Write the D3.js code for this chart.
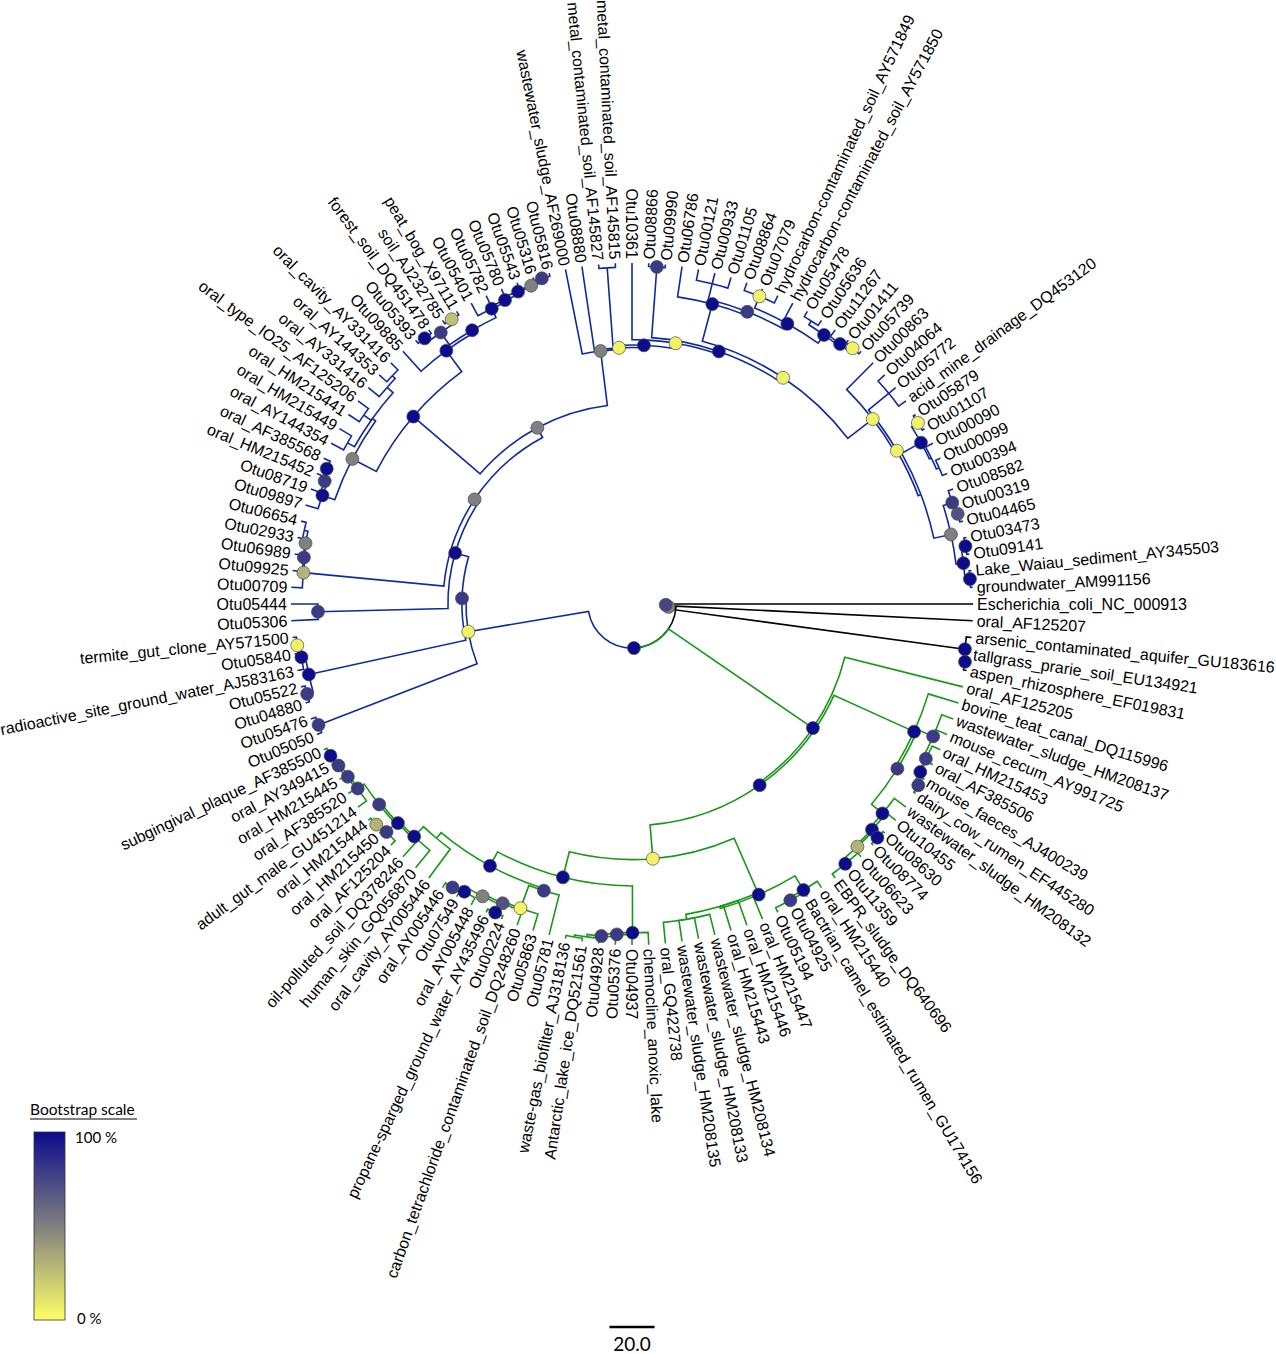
<!DOCTYPE html>
<html lang="en">
<head>
<meta charset="UTF-8">
<title>Bootstrap tree</title>
<script src="https://cdnjs.cloudflare.com/ajax/libs/d3/7.8.2/d3.min.js"></script>
<style>
  body { margin: 0; background: #fff; }
  #chart text { font-family: "Liberation Sans", Arial, sans-serif; }
</style>
</head>
<body>
<div id="chart"></div>
<script>
// internal nodes: [id, parent, depth from centre (tree units), bootstrap %]
const rootNode = ["root", null, 19.6, 100];

const blackNodes = [
  ["kg", "root", 16.3, 50],
  ["kb", "kg", 15.0, 75],
  ["bk1", "kg", 149.3, 100],
  ["bk2", "bk1", 150.2, 100]
];

const greenNodes = [
  ["gt", "root", 97.5, 100],
  ["g2", "gt", 98.5, 100],
  ["s", "g2", 137.6, 100],
  ["pq", "s", 138.8, 80],
  ["u1", "pq", 146.2, 80],
  ["u2", "u1", 147.6, 80],
  ["u3", "u2", 148.3, 100],
  ["u4", "u3", 150.6, 80],
  ["v1", "pq", 145.1, 100],
  ["v2", "v1", 146.4, 100],
  ["v4", "v2", 147.2, 30],
  ["v3", "v4", 150.6, 100],
  ["v5", "v4", 149.4, 100],
  ["yg", "g2", 113.6, 5],
  ["e", "yg", 140.9, 100],
  ["hb", "e", 148.2, 100],
  ["hp", "hb", 149.3, 80],
  ["w", "e", 140.0, null],
  ["w2", "w", 142.2, null],
  ["dg", "yg", 125.3, 100],
  ["oq", "dg", 146.1, 100],
  ["oq2", "oq", 147.0, 80],
  ["oq3", "oq2", 148.2, 80],
  ["oq4", "oq3", 149.3, null],
  ["oq5", "oq4", 150.2, null],
  ["d121", "dg", 132.4, 100],
  ["pk", "d121", 133.3, 80],
  ["yp", "pk", 144.0, 5],
  ["pg", "yp", 144.9, 70],
  ["gc", "pg", 145.9, 50],
  ["dk", "gc", 150.0, 100],
  ["d120", "gc", 148.0, 100],
  ["p123", "d120", 149.1, 80],
  ["or", "d121", 135.6, null],
  ["d133", "or", 141.6, 100],
  ["d136", "d133", 142.5, 100],
  ["p141", "d136", 143.4, 80],
  ["p137", "p141", 148.9, 80],
  ["t139", "p137", 150.1, 30],
  ["p146", "p141", 146.9, 80],
  ["p148", "p146", 147.8, 80],
  ["p151", "p148", 148.9, 80],
  ["d153", "p151", 150.0, 100]
];

const blueNodes = [
  ["y1", "root", 73.8, 5],
  ["nb1", "y1", 149.3, 80],
  ["p1", "y1", 75.6, 80],
  ["nb2", "p1", 147.0, 100],
  ["nb3", "nb2", 149.8, 80],
  ["nb4", "nb2", 148.8, 100],
  ["nb5", "nb4", 149.9, 5],
  ["d1", "p1", 81.8, 100],
  ["nb6", "d1", 139.6, 80],
  ["a1", "d1", 84.0, 50],
  ["nb7", "a1", 146.7, 30],
  ["nb8", "nb7", 147.3, 80],
  ["nb9", "nb8", 147.6, 50],
  ["nb10", "nb9", 149.3, null],
  ["a2", "a1", 88.9, 50],
  ["n", "a2", 128.0, 100],
  ["g", "n", 140.0, 50],
  ["oc", "g", 145.8, 100],
  ["ob", "oc", 147.1, 80],
  ["oa", "ob", 148.4, 100],
  ["og", "g", 141.8, null],
  ["op1", "og", 145.3, null],
  ["op2", "og", 145.8, null],
  ["op3", "og", 145.3, null],
  ["op3b", "op3", 147.1, null],
  ["h", "n", 139.6, 100],
  ["k", "h", 140.9, 100],
  ["kp", "k", 147.6, 80],
  ["kd", "kp", 149.8, 100],
  ["ky", "kp", 149.8, 25],
  ["l1", "k", 145.3, 100],
  ["l2", "l1", 146.4, 100],
  ["l3", "l2", 147.8, 100],
  ["l4", "l3", 148.4, 50],
  ["l5", "l4", 150.2, 80],
  ["t", "a2", 113.3, 50],
  ["t2", "t", 114.0, 5],
  ["t3", "t2", 115.1, 100],
  ["mp", "t3", 149.8, null],
  ["t4", "t3", 117.5, 5],
  ["t5", "t4", 118.7, 100],
  ["q", "t5", 150.2, 80],
  ["t6", "t5", 120.9, 5],
  ["da", "t6", 138.0, 100],
  ["pa", "da", 139.6, 80],
  ["b1", "pa", 146.7, null],
  ["db", "pa", 142.4, 100],
  ["yb", "db", 148.0, 5],
  ["dc", "db", 146.9, 100],
  ["pp", "dc", 148.9, null],
  ["de", "dc", 148.0, 100],
  ["ye", "de", 150.1, 5],
  ["t7", "t6", 134.9, 5],
  ["t8", "t7", 136.0, 5],
  ["m", "t8", 147.6, null],
  ["z", "t8", 137.3, null],
  ["d3", "z", 147.1, 100],
  ["y2", "d3", 150.4, 5],
  ["x118", "d3", 148.0, null],
  ["x119", "x118", 149.3, null],
  ["g4", "z", 145.1, 50],
  ["p4", "g4", 149.3, 80],
  ["pg4", "p4", 150.2, 70],
  ["b", "g4", 148.4, 100],
  ["bp", "b", 150.4, 100],
  ["ba", "b", 150.6, 100]
];

// leaves, in clockwise order starting at 3 o'clock: [name, parent]
const blackLeaves = [
  ["Escherichia_coli_NC_000913", "kb"],
  ["oral_AF125207", "kb"],
  ["arsenic_contaminated_aquifer_GU183616", "bk1"],
  ["tallgrass_prarie_soil_EU134921", "bk2"],
  ["aspen_rhizosphere_EF019831", "bk2"]
];

const greenLeaves = [
  ["oral_AF125205", "gt"],
  ["bovine_teat_canal_DQ115996", "s"],
  ["wastewater_sludge_HM208137", "u1"],
  ["mouse_cecum_AY991725", "u1"],
  ["oral_HM215453", "u2"],
  ["oral_AF385506", "u3"],
  ["mouse_faeces_AJ400239", "u4"],
  ["dairy_cow_rumen_EF445280", "u4"],
  ["wastewater_sludge_HM208132", "v1"],
  ["Otu10455", "v2"],
  ["Otu08630", "v3"],
  ["Otu08774", "v3"],
  ["Otu06623", "v5"],
  ["Otu11359", "v5"],
  ["EBPR_sludge_DQ640696", "v5"],
  ["oral_HM215440", "hb"],
  ["Bactrian_camel_estimated_rumen_GU174156", "hp"],
  ["Otu04925", "hp"],
  ["Otu05194", "hp"],
  ["oral_HM215447", "w"],
  ["oral_HM215446", "w"],
  ["oral_HM215443", "w"],
  ["wastewater_sludge_HM208134", "w2"],
  ["wastewater_sludge_HM208133", "w2"],
  ["wastewater_sludge_HM208135", "w2"],
  ["oral_GQ422738", "w2"],
  ["chemocline_anoxic_lake", "oq"],
  ["Otu04937", "oq2"],
  ["Otu05376", "oq3"],
  ["Otu04928", "oq4"],
  ["Antarctic_lake_ice_DQ521561", "oq5"],
  ["waste-gas_biofilter_AJ318136", "oq5"],
  ["Otu05781", "pk"],
  ["Otu05863", "yp"],
  ["carbon_tetrachloride_contaminated_soil_DQ248260", "pg"],
  ["Otu00224", "dk"],
  ["propane-sparged_ground_water_AY435496", "dk"],
  ["oral_AY005448", "d120"],
  ["Otu07549", "p123"],
  ["oral_AY005446", "p123"],
  ["oral_cavity_AY005446", "or"],
  ["human_skin_GQ056870", "d133"],
  ["oil-polluted_soil_DQ378246", "d136"],
  ["oral_AF125204", "p137"],
  ["oral_HM215450", "t139"],
  ["oral_HM215444", "t139"],
  ["adult_gut_male_GU451214", "p146"],
  ["oral_AF385520", "p148"],
  ["oral_HM215445", "p151"],
  ["oral_AY349415", "d153"],
  ["subgingival_plaque_AF385500", "d153"]
];

const blueLeaves = [
  ["Otu05050", "nb1"],
  ["Otu05476", "nb1"],
  ["Otu04880", "nb3"],
  ["Otu05522", "nb3"],
  ["radioactive_site_ground_water_AJ583163", "nb4"],
  ["Otu05840", "nb5"],
  ["termite_gut_clone_AY571500", "nb5"],
  ["Otu05306", "nb6"],
  ["Otu05444", "nb6"],
  ["Otu00709", "nb7"],
  ["Otu09925", "nb8"],
  ["Otu06989", "nb9"],
  ["Otu02933", "nb10"],
  ["Otu06654", "nb10"],
  ["Otu09897", "oc"],
  ["Otu08719", "ob"],
  ["oral_HM215452", "oa"],
  ["oral_AF385568", "oa"],
  ["oral_AY144354", "op1"],
  ["oral_HM215449", "op1"],
  ["oral_HM215441", "op2"],
  ["oral_type_IO25_AF125206", "op2"],
  ["oral_AY331416", "op3"],
  ["oral_AY144353", "op3b"],
  ["oral_cavity_AY331416", "op3b"],
  ["Otu09885", "h"],
  ["Otu05393", "kd"],
  ["forest_soil_DQ451478", "kd"],
  ["soil_AJ232785", "ky"],
  ["peat_bog_X97111", "ky"],
  ["Otu05401", "l1"],
  ["Otu05782", "l2"],
  ["Otu05780", "l3"],
  ["Otu05543", "l4"],
  ["Otu05316", "l5"],
  ["Otu05816", "l5"],
  ["wastewater_sludge_AF269000", "t"],
  ["Otu08880", "t2"],
  ["metal_contaminated_soil_AF145827", "mp"],
  ["metal_contaminated_soil_AF145815", "mp"],
  ["Otu10361", "t4"],
  ["Otu08866", "q"],
  ["Otu09990", "q"],
  ["Otu06786", "da"],
  ["Otu00121", "b1"],
  ["Otu00933", "b1"],
  ["Otu01105", "b1"],
  ["Otu08864", "yb"],
  ["Otu07079", "yb"],
  ["hydrocarbon-contaminated_soil_AY571849", "yb"],
  ["hydrocarbon-contaminated_soil_AY571850", "db"],
  ["Otu05478", "pp"],
  ["Otu05636", "pp"],
  ["Otu11267", "de"],
  ["Otu01411", "ye"],
  ["Otu05739", "ye"],
  ["Otu00863", "t7"],
  ["Otu04064", "m"],
  ["Otu05772", "m"],
  ["acid_mine_drainage_DQ453120", "m"],
  ["Otu05879", "y2"],
  ["Otu01107", "y2"],
  ["Otu00090", "x118"],
  ["Otu00099", "x119"],
  ["Otu00394", "x119"],
  ["Otu08582", "p4"],
  ["Otu00319", "pg4"],
  ["Otu04465", "pg4"],
  ["Otu03473", "bp"],
  ["Otu09141", "bp"],
  ["Lake_Waiau_sediment_AY345503", "ba"],
  ["groundwater_AM991156", "ba"]
];

const leafDepth = 151.6;
const scaleBarValue = 20;
const legendTicks = ["100 %", "0 %"];

const width = 1276, height = 1354;
const cx = 632, cy = 604;

const clades = [
  { color: "#000000", nodes: blackNodes, leaves: blackLeaves },
  { color: "#1a961a", nodes: greenNodes, leaves: greenLeaves },
  { color: "#102a9c", nodes: blueNodes, leaves: blueLeaves }
];

const rows = [{ id: rootNode[0], parentId: rootNode[1], depth: rootNode[2], boot: rootNode[3], color: "#000000" }];
const leafOrder = [];
clades.forEach(c => {
  c.nodes.forEach(([id, parent, depth, boot]) =>
    rows.push({ id, parentId: parent, depth, boot, color: c.color }));
  c.leaves.forEach(([name, parent]) => {
    rows.push({ id: name, parentId: parent, depth: leafDepth, boot: null, color: c.color, leaf: true });
    leafOrder.push(name);
  });
});

const root = d3.stratify().id(d => d.id).parentId(d => d.parentId)(rows);

const angle = d3.scaleLinear().domain([0, leafOrder.length]).range([0, 2 * Math.PI]);
const rScale = d3.scaleLinear().domain([0, 100]).range([0, 225]);
const bootColor = d3.scaleLinear()
  .domain([0, 50, 100])
  .range(["#ffff66", "#808080", "#0c0c8c"]);

root.eachAfter(n => {
  if (!n.children) n.a = angle(leafOrder.indexOf(n.id));
  else {
    const as = n.children.map(c => c.a);
    n.a = (d3.min(as) + d3.max(as)) / 2;
  }
  n.r = rScale(n.data.depth);
});

const pt = (r, a) => [cx + r * Math.cos(a), cy + r * Math.sin(a)];

const svg = d3.select("#chart").append("svg")
  .attr("width", width)
  .attr("height", height);

// branches: arc at the parent's radius, then a radial segment out to the child
svg.append("g")
  .selectAll("path")
  .data(root.descendants().filter(n => n.parent))
  .join("path")
  .attr("fill", "none")
  .attr("stroke", d => d.data.color)
  .attr("stroke-width", 1.6)
  .attr("d", d => {
    const p = d3.path();
    const [x0, y0] = pt(d.parent.r, d.parent.a);
    p.moveTo(x0, y0);
    p.arc(cx, cy, d.parent.r, d.parent.a, d.a, d.a < d.parent.a);
    const [x1, y1] = pt(d.r, d.a);
    p.lineTo(x1, y1);
    return p.toString();
  });

// bootstrap circles
svg.append("g")
  .selectAll("circle")
  .data(root.descendants().filter(n => n.children && n.data.boot != null))
  .join("circle")
  .attr("cx", d => pt(d.r, d.a)[0])
  .attr("cy", d => pt(d.r, d.a)[1])
  .attr("r", 6.5)
  .attr("fill", d => bootColor(d.data.boot))
  .attr("stroke", "#4a4a4a")
  .attr("stroke-width", 0.7);

// leaf labels
svg.append("g")
  .selectAll("text")
  .data(root.leaves())
  .join("text")
  .attr("font-size", 16)
  .attr("dy", "0.35em")
  .attr("transform", d => {
    const deg = d.a * 180 / Math.PI;
    const right = deg <= 90 || deg > 270;
    return `translate(${cx},${cy}) rotate(${deg}) translate(${d.r + 4},0)` + (right ? "" : " rotate(180)");
  })
  .attr("text-anchor", d => {
    const deg = d.a * 180 / Math.PI;
    return (deg <= 90 || deg > 270) ? "start" : "end";
  })
  .text(d => d.id);

// legend
const defs = svg.append("defs");
const grad = defs.append("linearGradient")
  .attr("id", "boot-grad")
  .attr("x1", "0%").attr("y1", "0%")
  .attr("x2", "0%").attr("y2", "100%");
[100, 75, 50, 25, 0].forEach((v, i) => {
  grad.append("stop")
    .attr("offset", `${i * 25}%`)
    .attr("stop-color", bootColor(v));
});

const legend = svg.append("g").attr("transform", "translate(30,1095)");
legend.append("text")
  .attr("x", 0).attr("y", 20)
  .style("font-family", "Lato, 'Open Sans', sans-serif")
  .attr("font-size", 15.5)
  .text("Bootstrap scale");
legend.append("line")
  .attr("x1", 0).attr("x2", 107)
  .attr("y1", 24).attr("y2", 24)
  .attr("stroke", "#000").attr("stroke-width", 1);
legend.append("rect")
  .attr("x", 4).attr("y", 37)
  .attr("width", 31).attr("height", 188)
  .attr("fill", "url(#boot-grad)")
  .attr("stroke", "#333").attr("stroke-width", 0.8);
legend.append("text")
  .attr("x", 45).attr("y", 48)
  .style("font-family", "Lato, 'Open Sans', sans-serif")
  .attr("font-size", 15)
  .text(legendTicks[0]);
legend.append("text")
  .attr("x", 47).attr("y", 229)
  .style("font-family", "Lato, 'Open Sans', sans-serif")
  .attr("font-size", 15)
  .text(legendTicks[1]);

// scale bar
const barLen = rScale(scaleBarValue) - rScale(0);
svg.append("line")
  .attr("x1", 632 - barLen / 2).attr("x2", 632 + barLen / 2)
  .attr("y1", 1327).attr("y2", 1327)
  .attr("stroke", "#000").attr("stroke-width", 2.5);
svg.append("text")
  .attr("x", 632).attr("y", 1351)
  .attr("text-anchor", "middle")
  .style("font-family", "Lato, 'Open Sans', sans-serif")
  .attr("font-size", 19)
  .text(scaleBarValue.toFixed(1));
</script>
</body>
</html>
